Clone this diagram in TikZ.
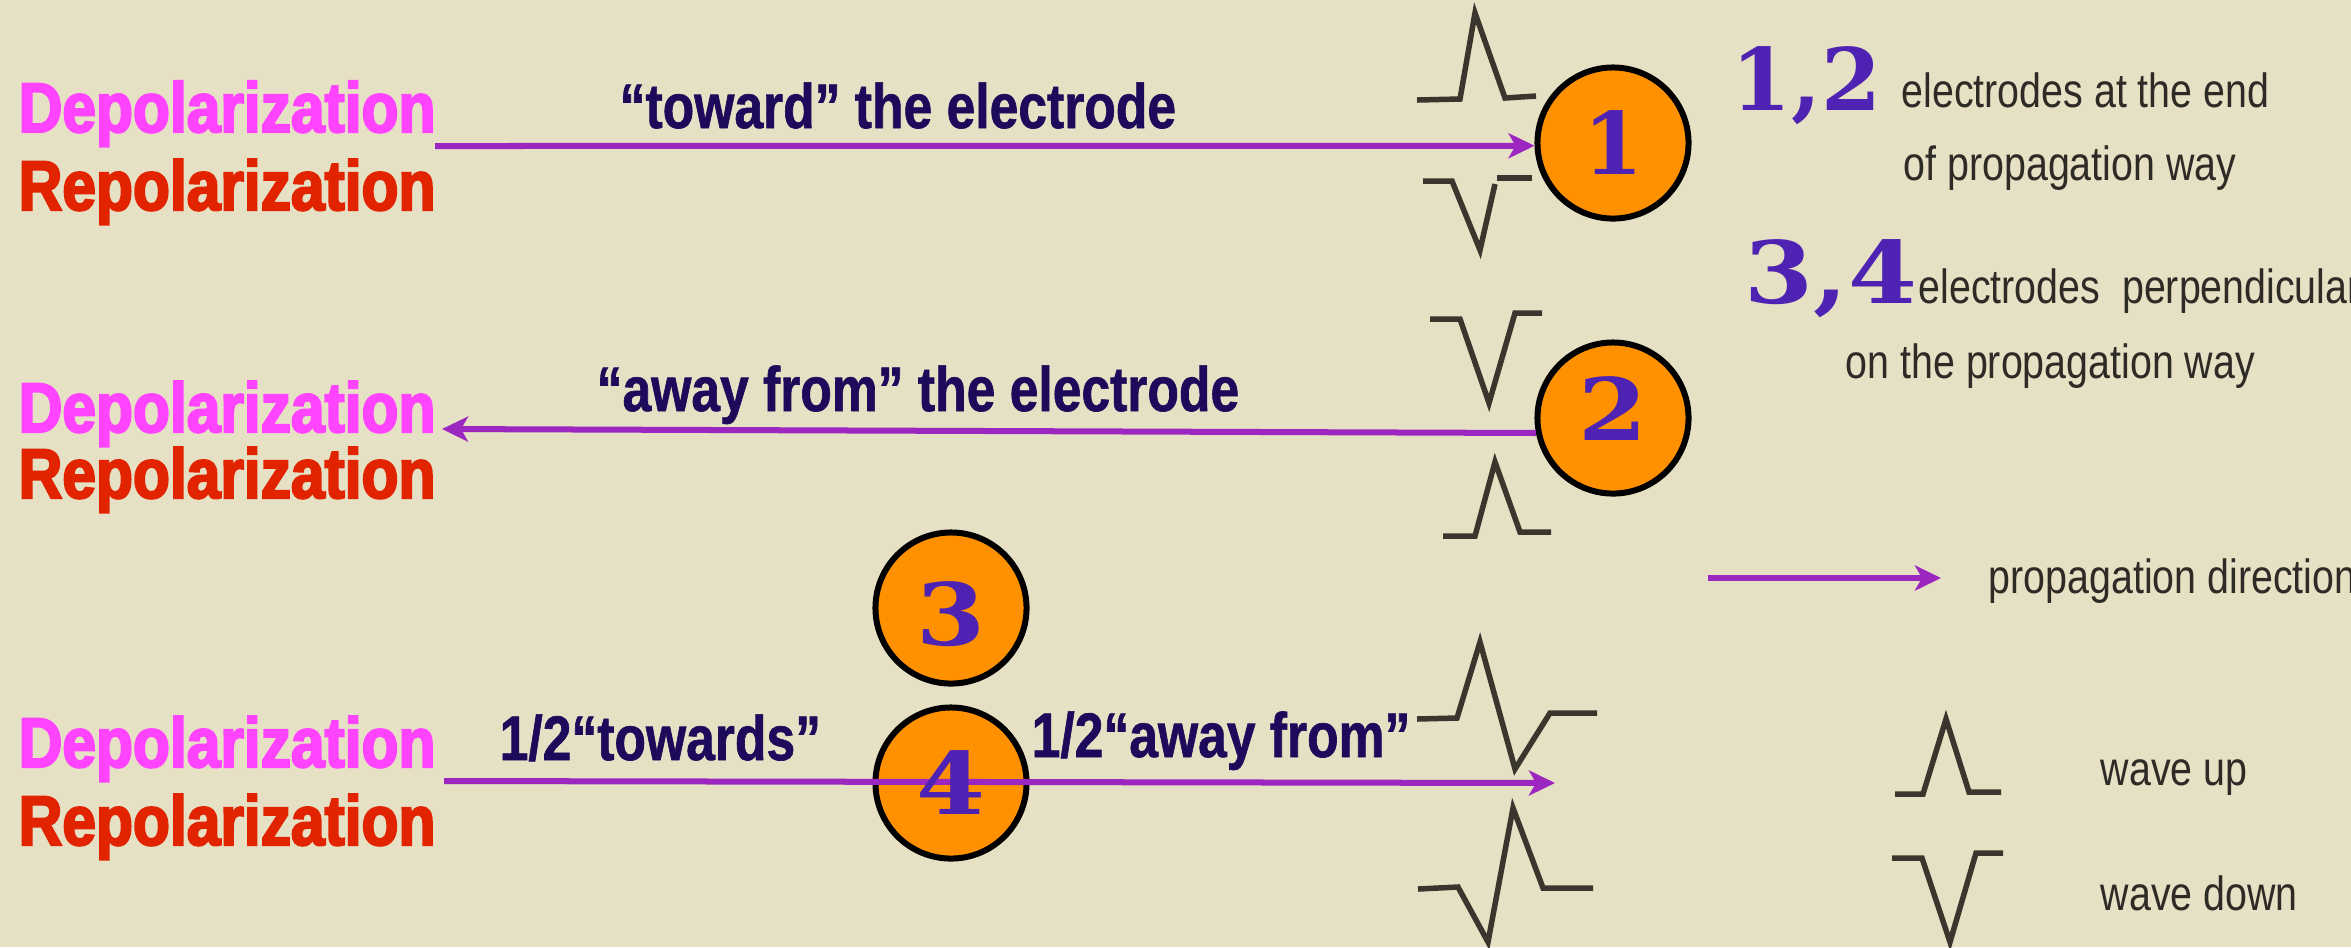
\documentclass[tikz,border=0pt]{standalone}
\usepackage{fontspec}
\usetikzlibrary{arrows.meta}
\newfontfamily\depfont[FakeStretch=0.86,FakeBold=3,BoldFeatures={FakeBold=3,FakeStretch=0.86}]{Liberation Sans}
\newfontfamily\narrowfont[FakeStretch=0.82]{Liberation Sans}
\newfontfamily\narrowbold[FakeStretch=0.82,FakeBold=1,BoldFeatures={FakeBold=1,FakeStretch=0.82}]{Liberation Sans}
\newfontfamily\numfont{DejaVu Serif}
\newfontfamily\widenum[FakeStretch=1.15]{DejaVu Serif}
\definecolor{bgc}{RGB}{230,224,196}
\definecolor{arrowc}{RGB}{155,38,192}
\definecolor{pinkc}{RGB}{255,68,255}
\definecolor{redc}{RGB}{225,35,0}
\definecolor{navyc}{RGB}{30,10,90}
\definecolor{numc}{RGB}{78,34,178}
\definecolor{orangec}{RGB}{255,145,0}
\definecolor{wavec}{RGB}{58,53,45}
\definecolor{legc}{RGB}{46,42,37}
\tikzset{
  dep/.style={anchor=base west,inner sep=0pt,text=pinkc,font=\depfont\bfseries\fontsize{20}{22}\selectfont},
  rep/.style={dep,text=redc},
  title/.style={anchor=base west,inner sep=0pt,text=navyc,font=\narrowbold\bfseries\fontsize{17.9}{20}\selectfont},
  legend/.style={anchor=base west,inner sep=0pt,text=legc,font=\narrowfont\fontsize{13.65}{16}\selectfont},
  electrode/.style={circle,draw=black,fill=orangec,line width=0.06cm,minimum size=1.51cm,inner sep=0pt},
  num/.style={inner sep=0pt,text=numc,font=\numfont\bfseries\fontsize{24.5}{26}\selectfont},
  wnum/.style={inner sep=0pt,text=numc,font=\widenum\bfseries\fontsize{24.5}{26}\selectfont},
  prop/.style={draw=arrowc,line width=0.06cm,-{Stealth[length=0.26cm,width=0.25cm,inset=0.07cm]}},
  wave/.style={draw=wavec,line width=0.055cm,line join=miter}
}
\begin{document}
\begin{tikzpicture}[x=0.01cm,y=-0.01cm]
\useasboundingbox (0,0) rectangle (2351,947);
\clip (0,0) rectangle (2351,947);
\fill[bgc] (0,0) rectangle (2351,947);

% left labels
\node[dep] (d1) at (18,132) {Depolarization};
\node[rep] (r1) at (18,210) {Repolarization};
\node[dep] (d2) at (18,432) {Depolarization};
\node[rep] (r2) at (18,498) {Repolarization};
\node[dep] (d3) at (18,767) {Depolarization};
\node[rep] (r3) at (18,845) {Repolarization};

% electrodes
\node[electrode] (c1) at (1613,143) {};
\node[electrode] (c2) at (1613,418) {};
\node[electrode] (c3) at (951,608) {};
\node[electrode] (c4) at (951,783) {};

% titles
\node[title] (t1) at (619,128) {“toward” the electrode};
\node[title] (t2) at (596,411) {“away from” the electrode};
\node[title] (t3) at (499,760) {1/2“towards”};
\node[title] (t4) at (1031,757) {1/2“away from”};

% arrows
\coordinate (a1s) at (435,146);
\draw[prop] (a1s) -- (c1.182);
\coordinate (a2e) at (442,429);
\draw[prop] (c2.191) -- (a2e);
\coordinate (a3s) at (444,781);
\coordinate (a3e) at (1555,783);
\draw[prop] (a3s) -- (a3e);

% numbers
\node[num] (n1) at (c1.center) {1};
\node[wnum,yshift=0.09cm] (n2) at (c2.center) {2};
\node[wnum,yshift=-0.06cm] (n3) at (c3.center) {3};
\node[wnum] (n4) at (c4.center) {4};

% waves
\draw[wave] (1417,100) -- (1460,99) -- (1475,13) -- (1505,98) -- (1536,96);
\draw[wave] (1423,181) -- (1452,181) -- (1480,250) -- (1495,184);
\draw[wave] (1497,178) -- (1532,178);
\draw[wave] (1430,319) -- (1460,319) -- (1489,403) -- (1515,313) -- (1542,313);
\draw[wave] (1443,536) -- (1475,536) -- (1495,462) -- (1520,532) -- (1551,532);
\draw[wave] (1417,719) -- (1457,718) -- (1480,642) -- (1515,769) -- (1550,713) -- (1597,713);
\draw[wave] (1418,889) -- (1458,887) -- (1488,942) -- (1513,808) -- (1543,888) -- (1593,888);

% legend
\node[num,anchor=base west] (k12) at (1731,110) {1,2};
\node[legend] (l1) at (1901,107) {electrodes at the end};
\node[legend] (l2) at (1903,180) {of propagation way};
\node[wnum,anchor=base west] (k34) at (1744,303) {3,4};
\node[legend] (l3) at (1918,303) {electrodes\ \ perpendicular};
\node[legend] (l4) at (1845,378) {on the propagation way};
\coordinate (pa) at (1708,578);
\coordinate (pb) at (1941,578);
\draw[prop] (pa) -- (pb);
\node[legend] (l5) at (1988,593) {propagation direction};
\draw[wave] (1895,794) -- (1923,794) -- (1946,719) -- (1969,792) -- (2001,792);
\node[legend] (l6) at (2100,785) {wave up};
\draw[wave] (1892,858) -- (1922,858) -- (1950,942) -- (1976,853) -- (2003,853);
\node[legend] (l7) at (2100,910) {wave down};
\end{tikzpicture}
\end{document}
